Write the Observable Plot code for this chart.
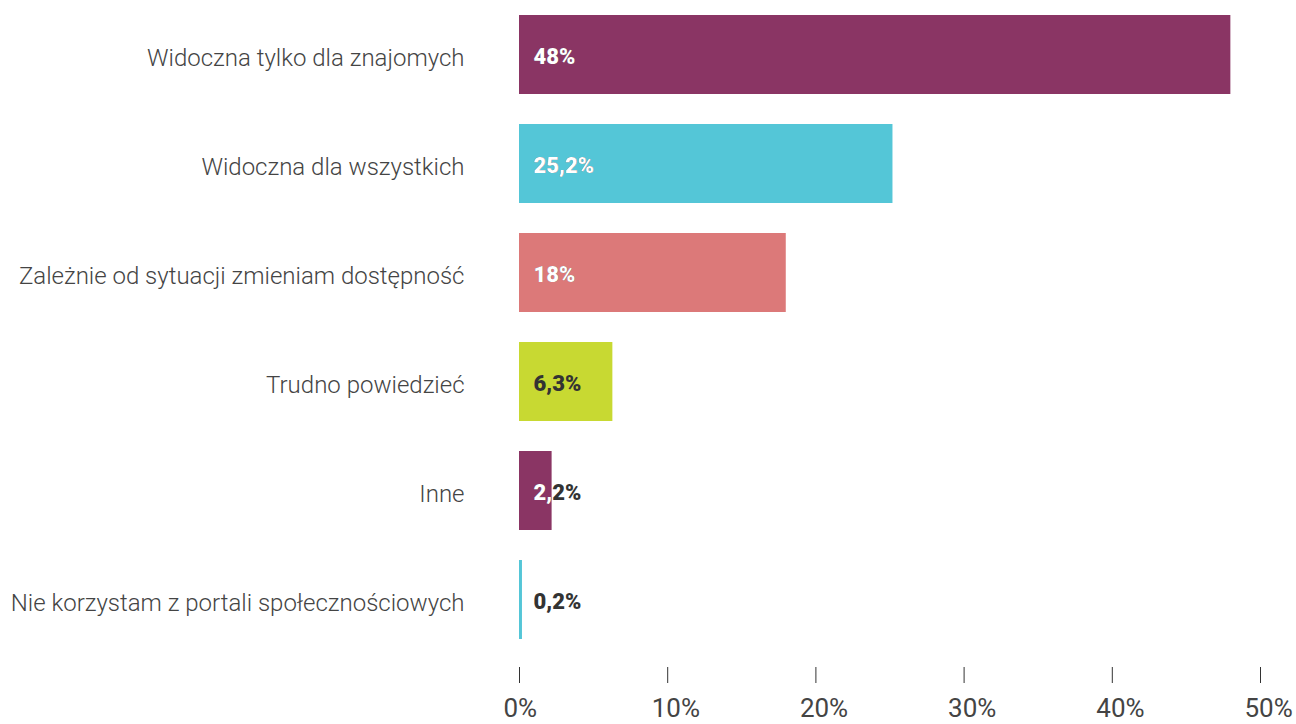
<!DOCTYPE html>
<html>
<head>
<meta charset="utf-8">
<script src="https://cdn.jsdelivr.net/npm/d3@7"></script>
<script src="https://cdn.jsdelivr.net/npm/@observablehq/plot@0.6"></script>
<style>
  html, body { margin: 0; padding: 0; background: #fff; }
  #chart { width: 1296px; height: 724px; overflow: hidden; }
</style>
</head>
<body>
<div id="chart"></div>
<script>
const categories = [
  "Widoczna tylko dla znajomych",
  "Widoczna dla wszystkich",
  "Zależnie od sytuacji zmieniam dostępność",
  "Trudno powiedzieć",
  "Inne",
  "Nie korzystam z portali społecznościowych"
];
const values = [48, 25.2, 18, 6.3, 2.2, 0.2];
const valueLabels = ["48%", "25,2%", "18%", "6,3%", "2,2%", "0,2%"];
const barColors = ["#8a3564", "#54c6d7", "#dc7979", "#c8d932", "#8a3564", "#54c6d7"];
const whiteLabel = [true, true, true, false, true, true];
const xTicks = [0, 10, 20, 30, 40, 50];

const data = categories.map((c, i) => ({
  category: c, value: values[i], label: valueLabels[i], color: barColors[i], white: whiteLabel[i]
}));
const whiteData = data.filter(d => d.white);

const plot = Plot.plot({
  width: 1296,
  height: 724,
  marginLeft: 519,
  marginRight: 36,
  marginTop: 0,
  marginBottom: 70,
  style: { fontFamily: "Roboto, sans-serif", background: "#fff" },
  x: { domain: [0, 50], ticks: xTicks, tickFormat: d => d + "%", label: null },
  y: { domain: categories, paddingInner: 0.278, paddingOuter: 0.128, label: null },
  marks: [
    Plot.barX(data, { x: "value", y: "category", fill: "color" }),
    Plot.text(data, { x: 0, y: "category", text: "label", dx: 14, dy: 2, textAnchor: "start",
      fill: "#333", fontWeight: 900, fontSize: 22 }),
    Plot.text(whiteData, { x: 0, y: "category", text: "label", dx: 14, dy: 2, textAnchor: "start",
      fill: "#fff", fontWeight: 900, fontSize: 22, ariaDescription: "white-labels" }),
    Plot.axisY({ tickSize: 0, tickPadding: 55, fontSize: 24, fontWeight: 300, color: "#444",
      dy: 3, label: null }),
    // tick lines
    Plot.axisX({ ticks: xTicks, tickFormat: () => "", tickSize: 16, dy: 13,
      label: null, stroke: "#333" }),
    // tick labels, left-aligned just before each tick
    Plot.axisX({ ticks: xTicks, tickFormat: d => d + "%", tickSize: 0, tickPadding: 44,
      textAnchor: "start", dx: -16, fontSize: 26, color: "#444", label: null })
  ]
});

document.getElementById("chart").appendChild(plot);

// clip white labels to the bars (union of bar rectangles), so text outside a bar shows dark
const sx = plot.scale("x"), sy = plot.scale("y");
const svg = d3.select(plot);
const defs = svg.insert("defs", ":first-child");
const clip = defs.append("clipPath").attr("id", "clip-white-bars");
whiteData.forEach(d => {
  clip.append("rect")
    .attr("x", sx.apply(0))
    .attr("width", sx.apply(d.value) - sx.apply(0))
    .attr("y", sy.apply(d.category))
    .attr("height", sy.bandwidth);
});
const whiteGroup = plot.querySelector('g[aria-description="white-labels"]');
if (whiteGroup) {
  const wrapper = document.createElementNS("http://www.w3.org/2000/svg", "g");
  wrapper.setAttribute("clip-path", "url(#clip-white-bars)");
  whiteGroup.parentNode.insertBefore(wrapper, whiteGroup);
  wrapper.appendChild(whiteGroup);
}
</script>
</body>
</html>
